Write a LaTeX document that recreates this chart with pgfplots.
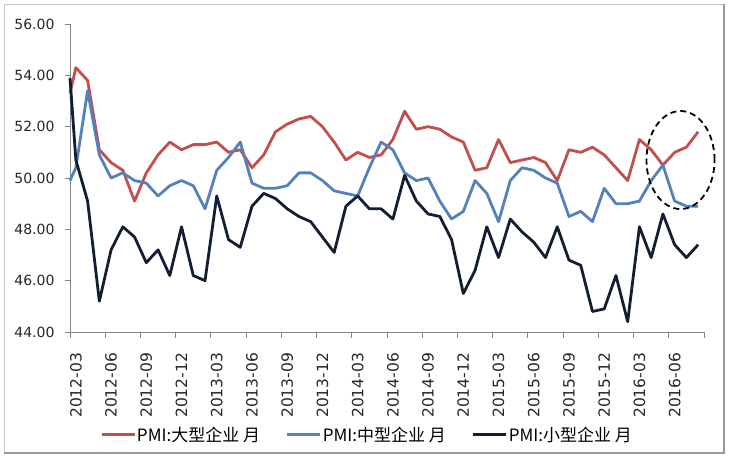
\documentclass[border=0pt]{standalone}
\usepackage{pgfplots}
\pgfplotsset{compat=1.18}
\usepackage{fontspec}
\setmainfont{DejaVu Sans}
\newfontfamily\cjk{Noto Sans CJK SC}
\definecolor{cred}{RGB}{192,80,77}
\definecolor{cblue}{RGB}{84,130,184}
\definecolor{cdark}{RGB}{20,30,50}
\definecolor{axgray}{RGB}{134,134,134}

\begin{document}
\begin{tikzpicture}
\path (0pt,0pt) rectangle (730pt,461pt);
\draw[line width=0.8pt, color=gray!45] (4pt,8pt) -- (4pt,456.5pt) -- (724pt,456.5pt);
\draw[line width=1.2pt, color=gray!80] (724pt,456.5pt) -- (724pt,8pt) -- (4pt,8pt);
\begin{axis}[
  at={(70pt,129pt)}, anchor=south west,
  scale only axis, width=634pt, height=308pt,
  xmin=-0.5, xmax=53.5, ymin=44, ymax=56,
  clip=false,
  axis x line*=bottom, axis y line*=left,
  axis line style={draw=axgray, line width=0.9pt},
  tick align=outside,
  major tick length=5pt, minor tick length=6pt,
  ytick={44,46,...,56},
  ytick style={draw=axgray, line width=0.9pt},
  /pgf/number format/fixed, /pgf/number format/fixed zerofill,
  /pgf/number format/precision=2, /pgf/number format/assume math mode=true,
  yticklabel style={font=\fontsize{14}{16}\selectfont, text=black!85, xshift=-7pt},
  xtick={0,3,...,51},
  xticklabels={2012-03,2012-06,2012-09,2012-12,2013-03,2013-06,2013-09,2013-12,2014-03,2014-06,2014-09,2014-12,2015-03,2015-06,2015-09,2015-12,2016-03,2016-06},
  xtick style={draw=none},
  minor xtick={-0.5,2.5,...,53.5},
  minor x tick style={draw=axgray, line width=0.9pt},
  xticklabel style={rotate=90, anchor=east, font=\fontsize{15.5}{18}\selectfont, text=black!85, xshift=-12.5pt},
  legend columns=3,
  legend style={at={(0.4677,-0.334)}, anchor=center, draw=none, fill=none,
    font=\cjk\fontsize{17}{19}\selectfont, nodes={inner xsep=1pt},
    /tikz/every even column/.append style={column sep=25pt}},
  legend image code/.code={\draw[#1, line width=2.8pt] (0pt,0pt) -- (33pt,0pt);},
  every axis plot/.append style={line width=2.8pt, line join=round, mark=none},
]
\addplot[cred] table {
x y
-0.5 53.3
0 54.3
1 53.8
2 51.1
3 50.6
4 50.3
5 49.1
6 50.2
7 50.9
8 51.4
9 51.1
10 51.3
11 51.3
12 51.4
13 51.0
14 51.1
15 50.4
16 50.9
17 51.8
18 52.1
19 52.3
20 52.4
21 52.0
22 51.4
23 50.7
24 51.0
25 50.8
26 50.9
27 51.5
28 52.6
29 51.9
30 52.0
31 51.9
32 51.6
33 51.4
34 50.3
35 50.4
36 51.5
37 50.6
38 50.7
39 50.8
40 50.6
41 49.9
42 51.1
43 51.0
44 51.2
45 50.9
46 50.4
47 49.9
48 51.5
49 51.1
50 50.5
51 51.0
52 51.2
53 51.8
};
\addlegendentry{PMI:大型企业 月}
\addplot[cblue] table {
x y
-0.5 49.9
0 50.4
1 53.4
2 50.9
3 50.0
4 50.2
5 49.9
6 49.8
7 49.3
8 49.7
9 49.9
10 49.7
11 48.8
12 50.3
13 50.8
14 51.4
15 49.8
16 49.6
17 49.6
18 49.7
19 50.2
20 50.2
21 49.9
22 49.5
23 49.4
24 49.3
25 50.4
26 51.4
27 51.1
28 50.2
29 49.9
30 50.0
31 49.1
32 48.4
33 48.7
34 49.9
35 49.4
36 48.3
37 49.9
38 50.4
39 50.3
40 50.0
41 49.8
42 48.5
43 48.7
44 48.3
45 49.6
46 49.0
47 49.0
48 49.1
49 49.9
50 50.5
51 49.1
52 48.9
53 48.9
};
\addlegendentry{PMI:中型企业 月}
\addplot[cdark] table {
x y
-0.5 53.9
0 50.7
1 49.1
2 45.2
3 47.2
4 48.1
5 47.7
6 46.7
7 47.2
8 46.2
9 48.1
10 46.2
11 46.0
12 49.3
13 47.6
14 47.3
15 48.9
16 49.4
17 49.2
18 48.8
19 48.5
20 48.3
21 47.7
22 47.1
23 48.9
24 49.3
25 48.8
26 48.8
27 48.4
28 50.1
29 49.1
30 48.6
31 48.5
32 47.6
33 45.5
34 46.4
35 48.1
36 46.9
37 48.4
38 47.9
39 47.5
40 46.9
41 48.1
42 46.8
43 46.6
44 44.8
45 44.9
46 46.2
47 44.4
48 48.1
49 46.9
50 48.6
51 47.4
52 46.9
53 47.4
};
\addlegendentry{PMI:小型企业 月}
\draw[black, line width=1.8pt, dash pattern=on 6pt off 4pt] (axis cs:51.5,50.7) ellipse [x radius=2.9, y radius=1.91];
\end{axis}
\end{tikzpicture}
\end{document}
